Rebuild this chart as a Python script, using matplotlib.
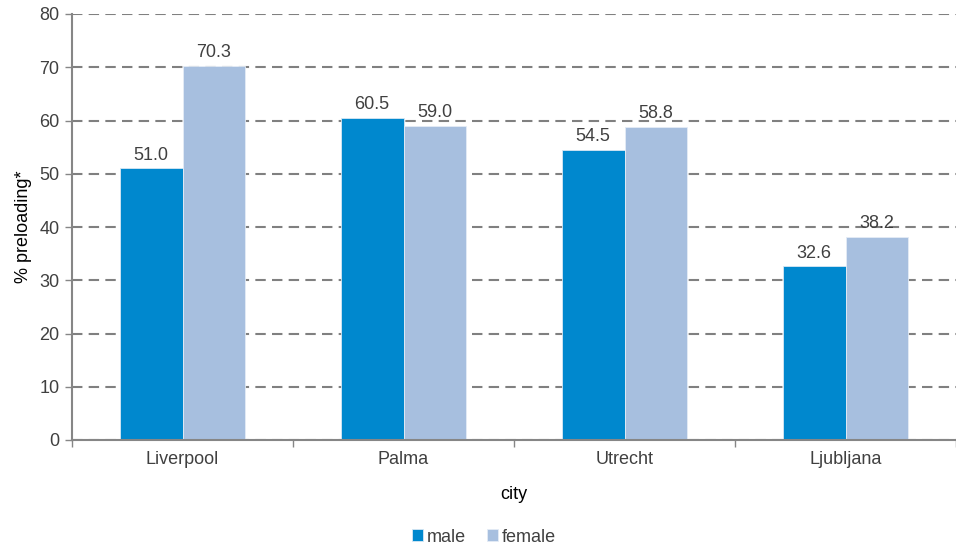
import matplotlib
matplotlib.use("Agg")
import matplotlib.pyplot as plt
import numpy as np

cities = ["Liverpool", "Palma", "Utrecht", "Ljubljana"]
male = [51.0, 60.5, 54.5, 32.6]
female = [70.3, 59.0, 58.8, 38.2]
yticks = [0, 10, 20, 30, 40, 50, 60, 70, 80]

plt.rcParams['font.family'] = ['Liberation Sans', 'DejaVu Sans']
txt = '#404040'
fs = 13
fig = plt.figure(figsize=(9.56, 5.48), dpi=100)
ax = fig.add_axes([72/956, 108/548, 884/956, 426/548])

x = np.arange(len(cities))
w = 0.285
b1 = ax.bar(x - w/2, male, w, color='#0088CE', edgecolor='#d8e8f4', linewidth=0.6, label='male', zorder=3)
b2 = ax.bar(x + w/2, female, w, color='#A7BFDF', edgecolor='#e4ecf6', linewidth=0.6, label='female', zorder=3)
for bars, vals in ((b1, male), (b2, female)):
    for r, v in zip(bars, vals):
        ax.text(r.get_x() + r.get_width()/2, v + 0.9, f"{v:.1f}", ha='center', va='bottom',
                fontsize=fs, color=txt, zorder=4)

ax.set_xlim(-0.5, len(cities) - 0.5)
ax.set_ylim(0, 80)
ax.set_yticks(yticks)
ax.set_yticklabels([str(t) for t in yticks], fontsize=fs, color=txt)
ax.set_xticks(x)
ax.set_xticklabels(cities, fontsize=fs, color=txt)
ax.tick_params(axis='x', length=0, pad=8)
ax.set_xticks(np.arange(-0.5, len(cities)), minor=True)
ax.tick_params(axis='x', which='minor', length=5, color='#868686', width=1)
ax.tick_params(axis='y', length=5, color='#868686', width=1, pad=4)
ax.yaxis.grid(True, linestyle=(0, (5, 3)), color='#808080', linewidth=1.5, zorder=0)
for s in ('top', 'right'):
    ax.spines[s].set_visible(False)
for s in ('left', 'bottom'):
    ax.spines[s].set_color('#868686')
    ax.spines[s].set_linewidth(1.5)
    ax.spines[s].set_zorder(5)
ax.set_ylabel('% preloading*', fontsize=fs, color='black', labelpad=5)
ax.set_xlabel('city', fontsize=fs, color='black', labelpad=13)

fig.legend(handles=[b1, b2], labels=['male', 'female'], loc='center', bbox_to_anchor=(484/956, 1 - 537/548),
           ncol=2, frameon=False, fontsize=fs, handlelength=0.6, handleheight=0.6, handletextpad=0.2,
           columnspacing=1.2, labelcolor=txt)
fig.savefig('out.png', dpi=100)
